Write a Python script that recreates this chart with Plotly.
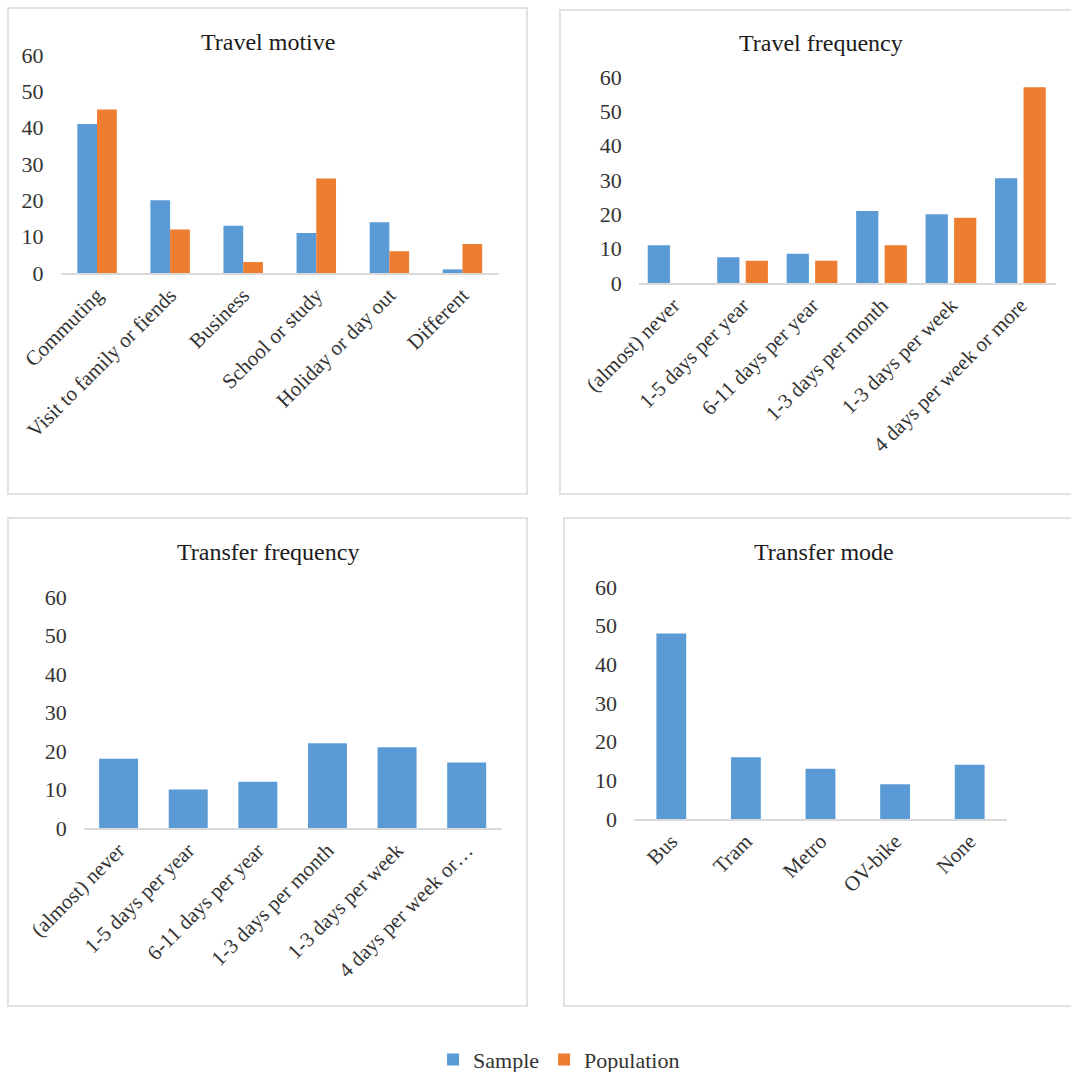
import plotly.graph_objects as go

W, H = 1071, 1072

motive_cats = ["Commuting", "Visit to family or fiends", "Business", "School or study", "Holiday or day out", "Different"]
motive_sample = [41, 20, 13, 11, 14, 1]
motive_pop = [45, 12, 3, 26, 6, 8]

tfreq_cats = ["(almost) never", "1-5 days per year", "6-11 days per year", "1-3 days per month", "1-3 days per week", "4 days per week or more"]
tfreq_sample = [11, 7.5, 8.5, 21, 20, 30.5]
tfreq_pop = [0, 6.5, 6.5, 11, 19, 57]

xfreq_cats = ["(almost) never", "1-5 days per year", "6-11 days per year", "1-3 days per month", "1-3 days per week", "4 days per week or…"]
xfreq_sample = [18, 10, 12, 22, 21, 17]

mode_cats = ["Bus", "Tram", "Metro", "OV-bike", "None"]
mode_sample = [48, 16, 13, 9, 14]

titles = ["Travel motive", "Travel frequency", "Transfer frequency", "Transfer mode"]
yticks = [0, 10, 20, 30, 40, 50, 60]

BLUE = "#5B9BD5"
ORANGE = "#ED7D31"
FONT = "Liberation Serif"

def px_x(v):
    return v / W

def px_y(v):
    return 1 - v / H

fig = go.Figure()

# panel 1
fig.add_trace(go.Bar(x=motive_cats, y=motive_sample, name="Sample", marker_color=BLUE,
                     width=0.27, offset=-0.27, xaxis="x", yaxis="y", legendgroup="s"))
fig.add_trace(go.Bar(x=motive_cats, y=motive_pop, name="Population", marker_color=ORANGE,
                     width=0.27, offset=0.0, xaxis="x", yaxis="y", legendgroup="p"))
# panel 2
fig.add_trace(go.Bar(x=tfreq_cats, y=tfreq_sample, name="Sample", marker_color=BLUE, showlegend=False,
                     width=0.32, offset=-0.37, xaxis="x2", yaxis="y2", legendgroup="s"))
fig.add_trace(go.Bar(x=tfreq_cats, y=tfreq_pop, name="Population", marker_color=ORANGE, showlegend=False,
                     width=0.32, offset=0.04, xaxis="x2", yaxis="y2", legendgroup="p"))
# panel 3
fig.add_trace(go.Bar(x=xfreq_cats, y=xfreq_sample, name="Sample", marker_color=BLUE, showlegend=False,
                     width=0.56, offset=-0.28, xaxis="x3", yaxis="y3", legendgroup="s"))
# panel 4
fig.add_trace(go.Bar(x=mode_cats, y=mode_sample, name="Sample", marker_color=BLUE, showlegend=False,
                     width=0.40, offset=-0.20, xaxis="x4", yaxis="y4", legendgroup="s"))

fig.update_traces(marker_line_width=0)

panels = [
    dict(xd=(60.5, 499), yd=(273, 55), box=(8, 8, 527, 494), title=(268, 42)),
    dict(xd=(638.7, 1055.5), yd=(283, 77), box=(560, 10, 1080, 494), title=(821, 43)),
    dict(xd=(83.8, 501.5), yd=(828, 597), box=(8, 518, 527, 1006), title=(268, 552)),
    dict(xd=(634, 1007), yd=(819, 587), box=(564, 518, 1080, 1006), title=(824, 552)),
]

layout = dict(
    width=W, height=H,
    autosize=False,
    margin=dict(l=0, r=0, t=0, b=0, pad=0, autoexpand=False),
    paper_bgcolor="white", plot_bgcolor="white",
    barmode="overlay",
    font=dict(family=FONT, size=20, color="#404040"),
    showlegend=True,
    legend=dict(orientation="h", x=0.522, xanchor="center", y=-0.008, yanchor="bottom",
                font=dict(family=FONT, size=22, color="#333333"), itemwidth=30,
                tracegroupgap=0, bgcolor="rgba(0,0,0,0)"),
)

shapes = []
annotations = []
for i, p in enumerate(panels):
    sfx = "" if i == 0 else str(i + 1)
    layout["xaxis" + sfx] = dict(
        domain=[px_x(p["xd"][0]), px_x(p["xd"][1])],
        anchor="y" + sfx, showline=True, linecolor="#d9d9d9", linewidth=1.5,
        showgrid=False, zeroline=False, ticks="", tickangle=-45, automargin=False,
        tickfont=dict(family=FONT, size=21, color="#333333"),
        fixedrange=True,
    )
    layout["yaxis" + sfx] = dict(
        domain=[px_y(p["yd"][0]), px_y(p["yd"][1])],
        anchor="x" + sfx, range=[0, 60], tickvals=yticks, automargin=False,
        showline=False, showgrid=False, zeroline=False, ticks="",
        ticklabelstandoff=16,
        tickfont=dict(family=FONT, size=22, color="#333333"),
        fixedrange=True,
    )
    x0, y0, x1, y1 = p["box"]
    shapes.append(dict(type="rect", xref="paper", yref="paper",
                       x0=px_x(x0), x1=px_x(x1), y0=px_y(y1), y1=px_y(y0),
                       line=dict(color="#d9d9d9", width=1.5), layer="below"))
    annotations.append(dict(text=titles[i], xref="paper", yref="paper",
                            x=px_x(p["title"][0]), y=px_y(p["title"][1]),
                            xanchor="center", yanchor="middle", showarrow=False,
                            font=dict(family=FONT, size=24, color="#1a1a1a")))

layout["shapes"] = shapes
layout["annotations"] = annotations
fig.update_layout(**layout)

fig.write_html("out.html")
